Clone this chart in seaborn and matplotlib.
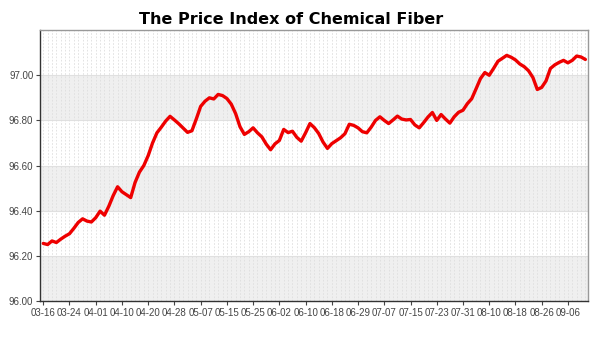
import numpy as np
import pandas as pd
import matplotlib
matplotlib.use("Agg")
import matplotlib.pyplot as plt
import matplotlib.ticker as mticker
import seaborn as sns

# daily index values (one per trading day)
index_values = [
    96.255, 96.250, 96.266, 96.259, 96.274, 96.287, 96.298, 96.322, 96.348, 96.364,
    96.354, 96.350, 96.369, 96.398, 96.380, 96.420, 96.467, 96.506, 96.484, 96.471,
    96.458, 96.525, 96.571, 96.600, 96.644, 96.700, 96.745, 96.770, 96.797, 96.818,
    96.802, 96.785, 96.766, 96.747, 96.754, 96.806, 96.862, 96.885, 96.900, 96.895,
    96.915, 96.910, 96.897, 96.872, 96.830, 96.772, 96.738, 96.750, 96.767, 96.745,
    96.727, 96.695, 96.670, 96.696, 96.711, 96.760, 96.746, 96.752, 96.725, 96.708,
    96.745, 96.786, 96.768, 96.742, 96.704, 96.676, 96.697, 96.710, 96.723, 96.741,
    96.783, 96.778, 96.767, 96.750, 96.745, 96.770, 96.800, 96.816, 96.800, 96.786,
    96.802, 96.819, 96.806, 96.802, 96.804, 96.780, 96.767, 96.790, 96.815, 96.835,
    96.800, 96.826, 96.806, 96.788, 96.816, 96.836, 96.845, 96.874, 96.896, 96.940,
    96.985, 97.012, 97.000, 97.030, 97.062, 97.075, 97.088, 97.080, 97.068, 97.050,
    97.038, 97.020, 96.990, 96.937, 96.946, 96.975, 97.030, 97.046, 97.057, 97.066,
    97.055, 97.066, 97.085, 97.081, 97.070,
]

# one label every 6 trading days
tick_labels = ["03-16", "03-24", "04-01", "04-10", "04-20", "04-28", "05-07",
               "05-15", "05-25", "06-02", "06-10", "06-18", "06-29", "07-07",
               "07-15", "07-23", "07-31", "08-10", "08-18", "08-26", "09-06"]
tick_step = 6

y_ticks = [96.0, 96.2, 96.4, 96.6, 96.8, 97.0]
grey_bands = [(96.0, 96.2), (96.4, 96.6), (96.8, 97.0)]

df = pd.DataFrame({"day": np.arange(len(index_values)), "value": index_values})

sns.set_theme(style="white")
plt.rcParams["font.family"] = ["Liberation Sans", "DejaVu Sans"]

fig = plt.figure(figsize=(6, 3.5), dpi=100)
ax = fig.add_axes([0.067, 0.14, 0.913, 0.774])

for lo, hi in grey_bands:
    ax.axhspan(lo, hi, color="#efefef", zorder=0, lw=0)
for y in y_ticks:
    ax.axhline(y, color="#e0e0e0", lw=0.8, zorder=1)
for d in df["day"]:
    ax.axvline(d, color="#dedede", lw=0.6, ls=(0, (2, 2)), zorder=1)

sns.lineplot(data=df, x="day", y="value", color="#ee0000", lw=2.4, ax=ax, zorder=3)
ax.lines[-1].set_solid_joinstyle("round")
ax.lines[-1].set_solid_capstyle("round")

ax.set_xlim(-0.7, len(index_values) - 0.4)
ax.set_ylim(96.0, 97.2)
ax.set_yticks(y_ticks)
ax.yaxis.set_major_formatter(mticker.FormatStrFormatter("%.2f"))
ax.set_xticks(np.arange(len(tick_labels)) * tick_step)
ax.set_xticklabels(tick_labels)
ax.set_xlabel("")
ax.set_ylabel("")
ax.tick_params(axis="both", labelsize=7, colors="#444444", length=3, width=0.8,
               direction="out", pad=2, bottom=True, left=True)

for side in ["left", "bottom"]:
    ax.spines[side].set_color("#333333")
    ax.spines[side].set_linewidth(1.0)
for side in ["top", "right"]:
    ax.spines[side].set_color("#999999")
    ax.spines[side].set_linewidth(1.0)

fig.suptitle("The Price Index of Chemical Fiber", x=0.485, y=0.965,
             fontsize=11.5, fontweight="bold", color="#000000",
             family=["DejaVu Sans"])

fig.savefig("out.png", dpi=100)
